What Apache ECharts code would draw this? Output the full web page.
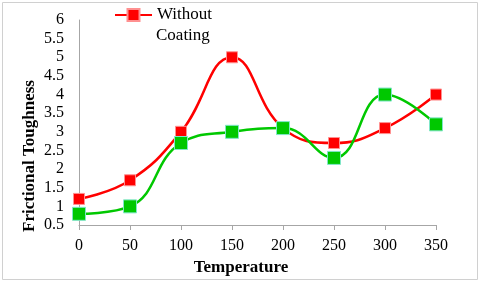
<!DOCTYPE html>
<html>
<head>
<meta charset="utf-8">
<script src="https://cdn.jsdelivr.net/npm/echarts@6/dist/echarts.min.js"></script>
<style>
html,body{margin:0;padding:0;background:#fff;}
#c{width:480px;height:284px;}
</style>
</head>
<body>
<div id="c"></div>
<script>
var categories = [0, 50, 100, 150, 200, 250, 300, 350];
var withoutCoating = [1.2, 1.7, 3.0, 5.0, 3.1, 2.7, 3.1, 4.0];
var withCoating = [0.8, 1.0, 2.7, 3.0, 3.1, 2.3, 4.0, 3.2];
var yTicks = [0.5, 1, 1.5, 2, 2.5, 3, 3.5, 4, 4.5, 5, 5.5, 6];

var font = '"Liberation Serif", "Times New Roman", serif';
var chart = echarts.init(document.getElementById('c'), null, {renderer: 'canvas'});
chart.setOption({
  animation: false,
  backgroundColor: '#fff',
  grid: {left: 79, right: 44, top: 20, bottom: 59},
  legend: {
    data: ['Without Coating'],
    left: 114, top: 5, padding: 0,
    itemWidth: 37, itemHeight: 15,
    formatter: function () { return 'Without'; },
    textStyle: {fontFamily: font, fontSize: 17, color: '#000', lineHeight: 20}
  },
  xAxis: {
    type: 'category',
    data: categories.map(String),
    boundaryGap: false,
    axisLine: {lineStyle: {color: '#a6a6a6', width: 1}},
    axisTick: {show: true, length: 5, alignWithLabel: true, lineStyle: {color: '#a6a6a6'}},
    axisLabel: {fontFamily: font, fontSize: 16, color: '#000', margin: 13},
    splitLine: {show: false}
  },
  yAxis: {
    type: 'value',
    min: yTicks[0], max: yTicks[yTicks.length - 1], interval: 0.5,
    axisLine: {show: true, lineStyle: {color: '#a6a6a6', width: 1}},
    axisTick: {show: false},
    axisLabel: {fontFamily: font, fontSize: 16, color: '#000', margin: 15},
    splitLine: {show: false}
  },
  graphic: [
    {type: 'rect', shape: {x: 2.5, y: 2.5, width: 475, height: 277}, style: {fill: 'none', stroke: '#d0d0d0', lineWidth: 1}, silent: true, z: -1},
    {type: 'text', left: 156, top: 27, style: {text: 'Coating', font: '17px ' + font, fill: '#000'}},
    {type: 'text', x: 241, y: 268, style: {text: 'Temperature', font: 'bold 17px ' + font, fill: '#000', textAlign: 'center', textVerticalAlign: 'middle'}},
    {type: 'text', x: 30, y: 156, rotation: Math.PI / 2, style: {text: 'Frictional Toughness', font: 'bold 17px ' + font, fill: '#000', textAlign: 'center', textVerticalAlign: 'middle'}}
  ],
  series: [
    {
      name: 'Without Coating', type: 'line', data: withoutCoating, smooth: 0.45,
      symbol: 'rect', symbolSize: 11,
      lineStyle: {color: '#ff0000', width: 2.5},
      itemStyle: {color: '#ff0000', borderColor: '#ff9090', borderWidth: 1},
      z: 2
    },
    {
      name: 'With Coating', type: 'line', data: withCoating, smooth: 0.45,
      symbol: 'rect', symbolSize: 13,
      lineStyle: {color: '#00c800', width: 2.5},
      itemStyle: {color: '#00c800', borderColor: '#7fe6c8', borderWidth: 1},
      z: 3
    }
  ]
});
</script>
</body>
</html>
